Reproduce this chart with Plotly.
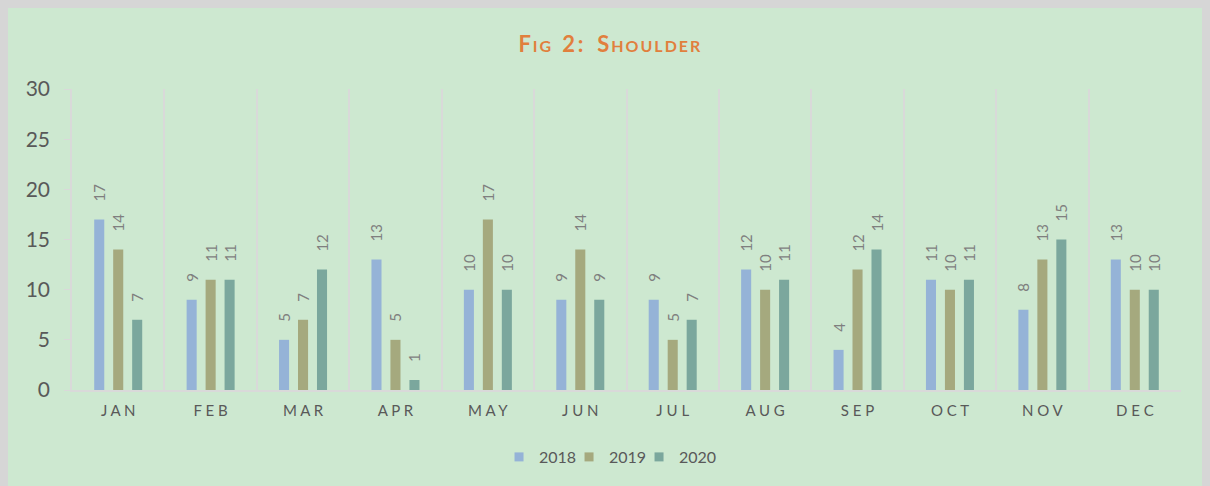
import plotly.graph_objects as go

months = ["JAN", "FEB", "MAR", "APR", "MAY", "JUN", "JUL", "AUG", "SEP", "OCT", "NOV", "DEC"]
month_labels = [" ".join(m) for m in months]
y2018 = [17, 9, 5, 13, 10, 9, 9, 12, 4, 11, 8, 13]
y2019 = [14, 11, 7, 5, 17, 14, 5, 10, 12, 10, 13, 10]
y2020 = [7, 11, 12, 1, 10, 9, 7, 11, 14, 11, 15, 10]
y_ticks = [0, 5, 10, 15, 20, 25, 30]

series = [("2018", y2018, "#95B3D7"), ("2019", y2019, "#A5A97E"), ("2020", y2020, "#7BA79D")]

FONT = "Lato"
TS = "\u2009"
EN = "\u2002"


def spaced(s):
    return TS.join(s)


title_text = ("<b>F<span style='font-size:16px'>" + TS + spaced("IG") + "</span>" + EN + spaced("2:") + EN + TS
              + "S<span style='font-size:16px'>" + TS + spaced("HOULDER") + "</span></b>")

fig = go.Figure()
for name, vals, col in series:
    fig.add_trace(go.Bar(
        x=months, y=vals, name=name, marker=dict(color=col, line=dict(width=0)),
        text=[str(v) for v in vals], texttemplate=EN + EN + "%{text}",
        textposition="outside", textangle=-90,
        constraintext="none",
        textfont=dict(family=FONT, size=15, color="#7F7F7F"), cliponaxis=False,
        showlegend=False,
    ))
    fig.add_trace(go.Scatter(
        x=[None], y=[None], mode="markers", name=name,
        marker=dict(symbol="square", size=9, color=col), showlegend=True,
    ))
# invisible spacer entry so the last legend label is not clipped
fig.add_trace(go.Scatter(
    x=[None], y=[None], mode="markers", name=EN,
    marker=dict(symbol="square", size=9, color="rgba(0,0,0,0)"), showlegend=True,
    hoverinfo="skip",
))

fig.update_layout(
    width=1210, height=486,
    paper_bgcolor="#CDE8D0", plot_bgcolor="#CDE8D0",
    margin=dict(l=64, r=37, t=81, b=104),
    barmode="group", bargap=0.384, bargroupgap=0.47,
    title=dict(
        text=title_text,
        x=0.497, xanchor="center", y=1 - 36 / 486, yanchor="middle",
        font=dict(family=FONT, size=22, color="#E17F3D"),
    ),
    showlegend=True,
    legend=dict(orientation="h", x=0.5113, xanchor="center", y=-0.2226, yanchor="middle",
                font=dict(family=FONT, size=16, color="#595959"),
                itemwidth=30, traceorder="normal", entrywidth=25),
    font=dict(family=FONT, color="#595959"),
)
fig.update_xaxes(
    type="category", tickvals=months, ticktext=month_labels,
    tickson="boundaries", showgrid=True, gridcolor="#D9D9D9", gridwidth=1.5,
    showline=True, linecolor="#D9D9D9", linewidth=1.5, ticks="",
    ticklabelstandoff=6,
    tickfont=dict(family=FONT, size=15, color="#595959"),
)
fig.update_yaxes(
    range=[0, 30], tickvals=y_ticks, showgrid=False, zeroline=False,
    showline=True, linecolor="#D9D9D9", linewidth=1.5,
    ticks="outside", ticklen=6, tickcolor="#D9D9D9",
    ticklabelstandoff=10,
    tickfont=dict(family=FONT, size=21, color="#595959"),
)
fig.write_html("out.html", post_script="document.body.style.background='#D6D6D6';")
